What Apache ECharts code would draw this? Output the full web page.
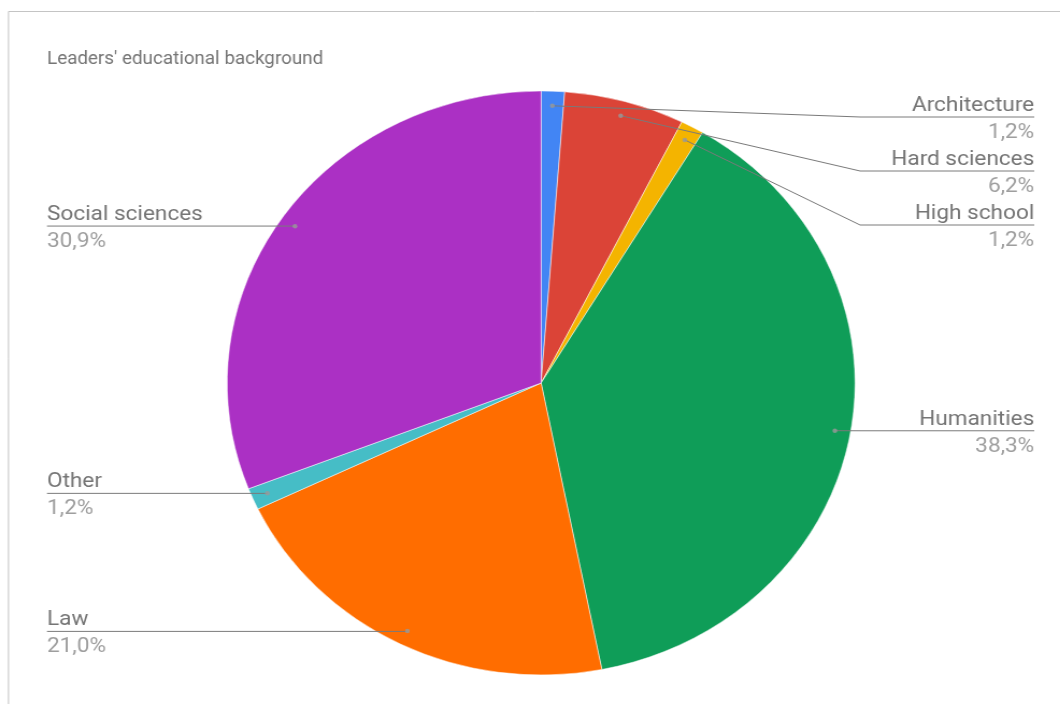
<!DOCTYPE html>
<html>
<head>
<meta charset="utf-8">
<title>Leaders' educational background</title>
<script src="https://cdn.jsdelivr.net/npm/echarts@6/dist/echarts.min.js"></script>
<style>
  html, body { margin: 0; padding: 0; background: #ffffff; overflow: hidden; }
  #wrap { width: 1060px; height: 704px; overflow: hidden; }
  /* the drawing is laid out on a 986px wide canvas and widened to fill the page */
  #chart { width: 986px; height: 704px; transform: scaleX(1.0751); transform-origin: 0 0; }
</style>
</head>
<body>
<div id="wrap"><div id="chart"></div></div>
<script>
// Education fields, clockwise from 12 o'clock
const categories = ['Architecture', 'Hard sciences', 'High school', 'Humanities', 'Law', 'Other', 'Social sciences'];
// Share of leaders, percent
const shares = [1.2, 6.2, 1.2, 38.3, 21.0, 1.2, 30.9];
const sliceColors = ['#4285f4', '#db4437', '#f4b400', '#0f9d58', '#ff6d00', '#46bdc6', '#ab30c4'];
const chartTitle = "Leaders' educational background";

const CX = 503.3, CY = 383, R = 292;
const DOT_R = R * 0.95;          // where the leader lines start inside the slices
const BOX_LEFT = 19.7, BOX_TOP = 90, BOX_BOTTOM = 28;
const RIGHT_BEND = 800;
const FONT = 'Roboto, "Noto Sans", sans-serif';

const pieData = categories.map((name, i) => ({ name: name, value: shares[i], itemStyle: { color: sliceColors[i] } }));

// angular midpoint (in percent of the full turn) of every slice
const total = shares.reduce((a, b) => a + b, 0);
let acc = 0;
const midPoints = shares.map(v => { const m = acc + v / 2; acc += v; return [DOT_R, m]; });

const fmtPct = v => v.toFixed(1).replace('.', ',') + '%';

const chart = echarts.init(document.getElementById('chart'), null, { renderer: 'canvas' });

const option = {
  animation: false,
  backgroundColor: '#ffffff',
  title: {
    text: chartTitle,
    left: 43.7,
    top: 51,
    padding: 0,
    textStyle: { fontFamily: FONT, fontSize: 17.5, fontWeight: 'normal', color: '#757575' }
  },
  graphic: [{
    type: 'rect',
    silent: true,
    z: -1,
    shape: { x: 7.9, y: 11.5, width: 2000, height: 2000 },
    style: { fill: 'none', stroke: '#c4c4c4', lineWidth: 1 }
  }],
  polar: { center: [CX, CY], radius: R },
  angleAxis: { type: 'value', min: 0, max: total, startAngle: 90, clockwise: true, show: false },
  radiusAxis: { type: 'value', min: 0, max: R, show: false },
  series: [
    {
      // the coloured slices
      type: 'pie',
      z: 1,
      left: BOX_LEFT, top: BOX_TOP, right: 0, bottom: BOX_BOTTOM,
      center: [CX - BOX_LEFT, CY - BOX_TOP],
      radius: [0, R],
      startAngle: 90,
      clockwise: true,
      silent: true,
      label: { show: false },
      labelLine: { show: false },
      itemStyle: { borderColor: '#ffffff', borderWidth: 0.5 },
      data: pieData
    },
    {
      // transparent copy that carries the labels and leader lines
      type: 'pie',
      z: 3,
      left: BOX_LEFT, top: BOX_TOP, right: 0, bottom: BOX_BOTTOM,
      center: [CX - BOX_LEFT, CY - BOX_TOP],
      radius: [0, DOT_R],
      startAngle: 90,
      clockwise: true,
      silent: true,
      avoidLabelOverlap: true,
      itemStyle: { color: 'rgba(0,0,0,0)' },
      label: {
        show: true,
        position: 'outer',
        alignTo: 'edge',
        edgeDistance: 24,
        minMargin: 0,
        lineHeight: 27,
        fontFamily: FONT,
        fontSize: 21,
        formatter: p => '{n|' + p.name + '}\n{p|' + fmtPct(p.value) + '}',
        rich: {
          n: { fontFamily: FONT, fontSize: 21, lineHeight: 31, color: '#757575' },
          p: { fontFamily: FONT, fontSize: 21, lineHeight: 23, color: '#9e9e9e' }
        }
      },
      labelLine: {
        show: true,
        length: 0.5,
        length2: 0,
        smooth: false,
        lineStyle: { color: '#7a7a7a', width: 1 }
      },
      labelLayout: function (params) {
        const pts = params.labelLinePoints;
        if (!pts) return;
        const isLeft = params.labelRect.x < chart.getWidth() / 2;
        if (!isLeft) pts[1][0] = Math.max(RIGHT_BEND, pts[0][0]);
        pts[2][0] = isLeft ? params.labelRect.x : params.labelRect.x + params.labelRect.width;
        return { labelLinePoints: pts };
      },
      data: pieData.map(d => ({ name: d.name, value: d.value }))
    },
    {
      // small anchor dots at the start of each leader line
      type: 'scatter',
      coordinateSystem: 'polar',
      silent: true,
      symbol: 'circle',
      symbolSize: 4.5,
      itemStyle: { color: '#9a9a9a' },
      z: 5,
      data: midPoints
    }
  ]
};

chart.setOption(option);
</script>
</body>
</html>
